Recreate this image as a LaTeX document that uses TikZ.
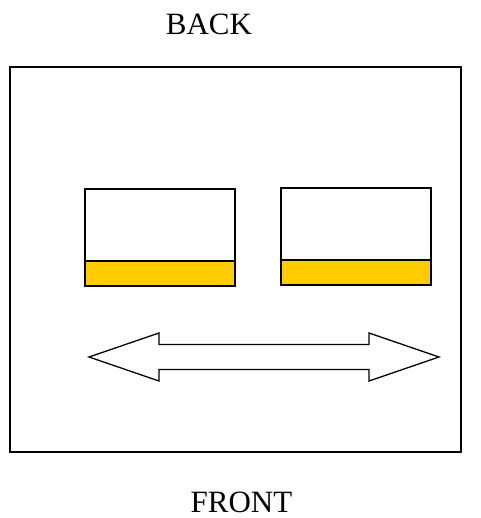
\documentclass[tikz,border=0pt]{standalone}
\usepackage{fontspec}
\setmainfont{Liberation Serif}
\definecolor{gold}{HTML}{FFCC00}
\begin{document}
\begin{tikzpicture}[x=1pt,y=-1pt,
  lbl/.style={anchor=base,inner sep=0pt,font=\fontsize{31}{31}\selectfont},
  frame/.style={draw=black,line width=1.8pt},
  box/.style={draw=black,line width=1.5pt},
  band/.style={draw=black,fill=gold,line width=1.5pt}]
\useasboundingbox (0,0) rectangle (480,518);
\node[lbl] (back) at (209,35) {BACK};
\node[lbl] (front) at (241.5,512) {FRONT};
\draw[frame] (10,67) rectangle (461,452);
% left box
\draw[box,fill=white] (85,189) rectangle (235,286);
\draw[band] (85,261) rectangle (235,286);
% right box
\draw[box,fill=white] (281,188) rectangle (431,285);
\draw[band] (281,260) rectangle (431,285);
% double arrow
\draw[line width=1.3pt,line join=miter,fill=white]
  (89,357) -- (159,333) -- (159,344.5) -- (369,344.5) -- (369,333) -- (439,357)
  -- (369,381) -- (369,369.5) -- (159,369.5) -- (159,381) -- cycle;
\end{tikzpicture}
\end{document}
